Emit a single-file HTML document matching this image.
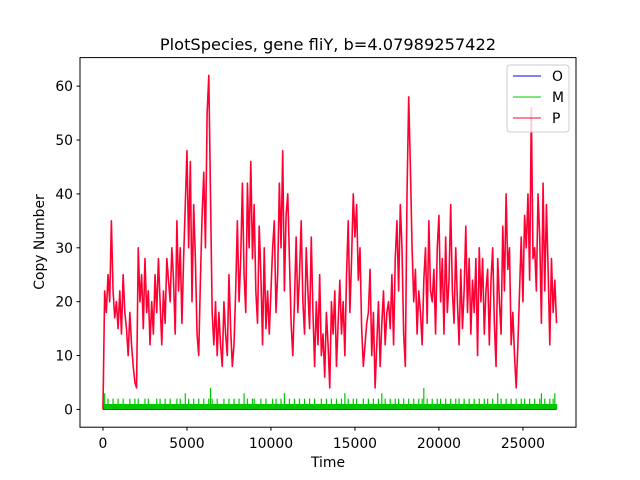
<!DOCTYPE html>
<html><head><meta charset="utf-8"><style>
body{margin:0;background:#fff}
svg{display:block;font-family:"DejaVu Sans","Liberation Sans",sans-serif}
</style></head><body>
<svg id="chart" width="640" height="480" viewBox="0 0 640 480">
<rect width="640" height="480" fill="#fff"/>
<text x="328" y="50" text-anchor="middle" font-size="16.2">PlotSpecies, gene fliY, b=4.07989257422</text>
<g id="plot"></g>
<rect x="80" y="57.6" width="496" height="369.6" fill="none" stroke="#000" stroke-width="1"/>
<g id="ticks"></g>
<text x="328" y="467" text-anchor="middle" font-size="13.9">Time</text>
<text transform="translate(44,242) rotate(-90)" text-anchor="middle" font-size="13.9">Copy Number</text>
<g>
<rect x="507" y="65" width="62" height="67" rx="3" fill="#fff" fill-opacity="0.8" stroke="#ccc"/>
<g><line x1="513" y1="76" x2="541" y2="76" stroke="#0000ff"/><text x="552" y="81" font-size="13.9">O</text></g>
<g><line x1="513" y1="97" x2="541" y2="97" stroke="#00c800"/><text x="552" y="102" font-size="13.9">M</text></g>
<g><line x1="513" y1="118" x2="541" y2="118" stroke="#ff0033"/><text x="552" y="123" font-size="13.9">P</text></g>
</g>
</svg>
<script>
const xTicks=[0,5000,10000,15000,20000,25000];
const yTicks=[0,10,20,30,40,50,60];
const step=100;
const pValues=[0,22,18,25,20,35,22,17,20,15,
22,14,25,18,15,10,18,12,8,5,
4,30,20,25,15,28,18,22,12,20,
14,25,18,28,20,12,22,16,28,24,
20,30,24,14,35,22,30,16,28,38,
48,30,46,20,38,28,14,10,24,36,
44,30,55,62,40,18,12,20,10,18,
12,8,20,14,10,25,15,8,12,22,
35,20,28,42,25,18,42,30,46,28,
38,22,16,34,25,12,30,15,22,14,
22,30,35,18,25,42,30,48,22,36,
40,28,16,10,20,32,18,25,35,20,
14,30,22,15,32,18,8,20,12,25,
10,14,6,18,12,4,20,14,22,8,
16,24,14,20,10,25,35,18,28,40,
32,38,24,30,15,8,12,16,18,26,
10,18,4,12,20,8,16,22,12,18,
20,15,25,12,28,35,22,38,30,14,
8,40,58,45,30,20,26,14,22,18,
12,24,30,16,35,22,20,26,14,30,
36,20,28,14,32,18,24,38,22,16,
30,20,12,26,15,22,34,18,28,14,
24,18,28,10,30,20,28,14,22,26,
12,24,30,16,8,28,20,14,34,22,
40,26,30,12,18,10,4,12,22,32,
20,36,30,40,24,56,28,30,22,40,
32,16,42,22,38,26,12,28,18,24,16];
const mValues=[2,3,1,2,1,1,2,1,1,2,1,1,2,1,1,1,2,1,1,2,
1,2,1,1,1,2,1,2,1,1,1,1,2,1,2,1,1,2,1,1,
2,1,1,1,2,1,2,1,1,3,1,2,1,1,2,1,1,2,1,1,
2,1,1,2,4,2,1,1,2,1,1,1,2,1,1,2,1,1,2,1,
1,2,1,1,3,1,2,1,1,2,2,1,1,1,2,1,1,2,1,1,
1,2,1,2,1,1,2,1,3,1,1,2,1,1,2,1,1,2,1,1,
2,1,1,2,1,1,2,1,1,1,2,1,1,2,1,1,2,1,1,2,
1,1,2,1,3,1,2,1,1,2,1,2,1,1,1,2,1,1,2,1,
1,2,1,1,2,1,3,1,2,1,1,2,1,1,2,1,2,1,1,2,
1,1,2,1,1,2,1,1,2,1,2,4,1,2,1,1,2,1,1,2,
1,2,1,1,2,1,1,2,1,1,2,1,2,1,1,2,1,1,2,1,
1,2,1,1,2,1,1,2,1,2,1,1,2,1,1,3,1,2,1,1,
2,1,1,2,1,1,2,1,1,2,1,2,1,1,2,1,1,2,1,1,2,3,1,
2,1,1,2,1,2,3,1];
const oValues=[0,0];
const oTimes=[0,27000];

const xMin=-1368,xMax=28160,yMin=-3.3,yMax=65.3;
const L=80,R=576,T=57.6,B=427.2;
const xs=t=>L+(t-xMin)/(xMax-xMin)*(R-L);
const ys=v=>B-(v-yMin)/(yMax-yMin)*(B-T);
const NS='http://www.w3.org/2000/svg';
const plot=document.getElementById('plot');
const ticks=document.getElementById('ticks');
function mk(tag,attrs,parent){const e=document.createElementNS(NS,tag);for(const k in attrs)e.setAttribute(k,attrs[k]);parent.appendChild(e);return e;}

const o=mk('polyline',{points:oTimes.map((t,i)=>xs(t)+','+ys(oValues[i])).join(' '),fill:'none',stroke:'#0000ff','stroke-width':1.2},plot);



const mg=mk('g',{},plot);


let mp='';
mValues.forEach((v,i)=>{const x=xs(i*step);mp+=`M${x},${ys(0)}V${ys(v)}`;});
mk('rect',{x:xs(0),y:ys(1),width:xs((mValues.length-1)*step)-xs(0),height:ys(0)-ys(1),fill:'#00c800'},mg);
mk('path',{d:mp,stroke:'#00c800','stroke-width':1.2,fill:'none'},mg);

const p=mk('polyline',{points:pValues.map((v,i)=>xs(i*step)+','+ys(v)).join(' '),fill:'none',stroke:'#ff0033','stroke-width':1.6,'stroke-linejoin':'round'},plot);



xTicks.forEach(t=>{const g=mk('g',{},ticks);


mk('line',{x1:xs(t),x2:xs(t),y1:B,y2:B+3.5,stroke:'#000'},g);
const tx=mk('text',{x:xs(t),y:448,'text-anchor':'middle','font-size':13.9},g);tx.textContent=t;});
yTicks.forEach(v=>{const g=mk('g',{},ticks);


mk('line',{x1:L-3.5,x2:L,y1:ys(v),y2:ys(v),stroke:'#000'},g);
const tx=mk('text',{x:L-7,y:ys(v)+5,'text-anchor':'end','font-size':13.9},g);tx.textContent=v;});
</script>
</body></html>
